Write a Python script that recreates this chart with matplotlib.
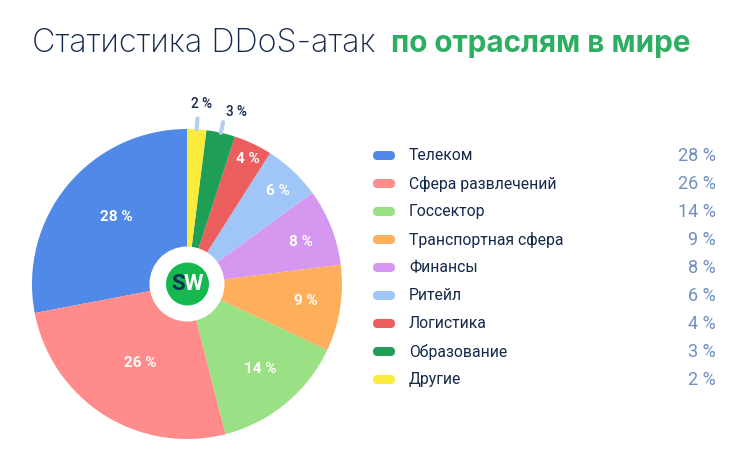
import math
import matplotlib
matplotlib.use("Agg")
import matplotlib.pyplot as plt
from matplotlib.patches import FancyBboxPatch, Circle

categories = ["Телеком", "Сфера развлечений", "Госсектор", "Транспортная сфера",
              "Финансы", "Ритейл", "Логистика", "Образование", "Другие"]
values = [28, 26, 14, 9, 8, 6, 4, 3, 2]
colors = ["#5089E8", "#FF8B8B", "#9AE085", "#FFAF5C", "#D597F0", "#A0C6F8",
          "#EC5E5E", "#1E9E57", "#FAEB3C"]
labels = [f"{v} %" for v in values]

W, H = 749, 465
fig = plt.figure(figsize=(W / 100, H / 100), dpi=100, facecolor="white")
bg = fig.add_axes([0, 0, 1, 1])
bg.set_xlim(0, W); bg.set_ylim(H, 0); bg.axis("off")

NAVY = "#14284B"
ROB = dict(family="Roboto", stretch="normal")
bg.text(32, 44, "Статистика DDoS-атак", fontsize=23.3, color=NAVY, family="Inter",
        fontweight="light", va="center", ha="left")
bg.text(391, 44, "по отраслям в мире", fontsize=21.4, color="#2DAE62", family="Inter",
        fontweight="bold", va="center", ha="left")

# pie
cx, cy, R = 187, 284, 155
pie = fig.add_axes([(cx - R) / W, 1 - (cy + R) / H, 2 * R / W, 2 * R / H])
wedges, _ = pie.pie(values, colors=colors, startangle=90, counterclock=True, radius=1,
                    wedgeprops=dict(linewidth=0))
pie.set_xlim(-1, 1); pie.set_ylim(-1, 1); pie.set_aspect("equal")
pie.patch.set_alpha(0)

# leader ticks for the two smallest slices
cum = 0
for i, v in enumerate(values):
    mid = math.radians(90 + (cum + v / 2) * 3.6)
    cum += v
    if v < 4:
        pie.plot([1.0 * math.cos(mid), 1.07 * math.cos(mid)],
                 [1.0 * math.sin(mid), 1.07 * math.sin(mid)],
                 color="#B5CDF0", lw=3, solid_capstyle="round", clip_on=False)

# centre logo
pie.add_patch(Circle((0, 0), 37.5 / R, fc="white", ec="none", zorder=5))
pie.add_patch(Circle((0.5 / R, 0), 21.5 / R, fc="#14B84E", ec="none", zorder=6))

top = fig.add_axes([0, 0, 1, 1]); top.set_xlim(0, W); top.set_ylim(H, 0); top.axis("off")
top.patch.set_alpha(0)

# slice labels (pixel layout, same order as values)
label_xy = [(116, 217), (140, 363), (260, 369), (306, 301), (301, 242),
            (278, 191), (248, 159)]
for i, (x, y) in enumerate(label_xy):
    top.text(x, y, labels[i], ha="center", va="center", color="white", fontsize=11,
             fontweight="bold", **ROB)
top.text(201.5, 104, labels[8], ha="center", va="center", color=NAVY, fontsize=9.8,
         fontweight="medium", **ROB)
top.text(236, 112, labels[7], ha="center", va="center", color=NAVY, fontsize=9.8,
         fontweight="medium", **ROB)

top.text(178.5, 284, "S", color="#10305A", fontsize=16, fontweight="bold", ha="center",
         va="center", **ROB)
top.text(193.5, 284, "W", color="white", fontsize=16, fontweight="bold", ha="center",
         va="center", **ROB)

# legend
y0, dy = 155.5, 28
for i, cat in enumerate(categories):
    y = y0 + dy * i
    bg.add_patch(FancyBboxPatch((373, y - 4.5), 22, 9, boxstyle="round,pad=0,rounding_size=4.5",
                                fc=colors[i], ec="none"))
    bg.text(409, y, cat, color=NAVY, fontsize=11.3, ha="left", va="center", **ROB)
    bg.text(716, y, labels[i], color="#6F8FC4", fontsize=13, ha="right", va="center", **ROB)

fig.savefig("out.png", dpi=100, facecolor="white")
